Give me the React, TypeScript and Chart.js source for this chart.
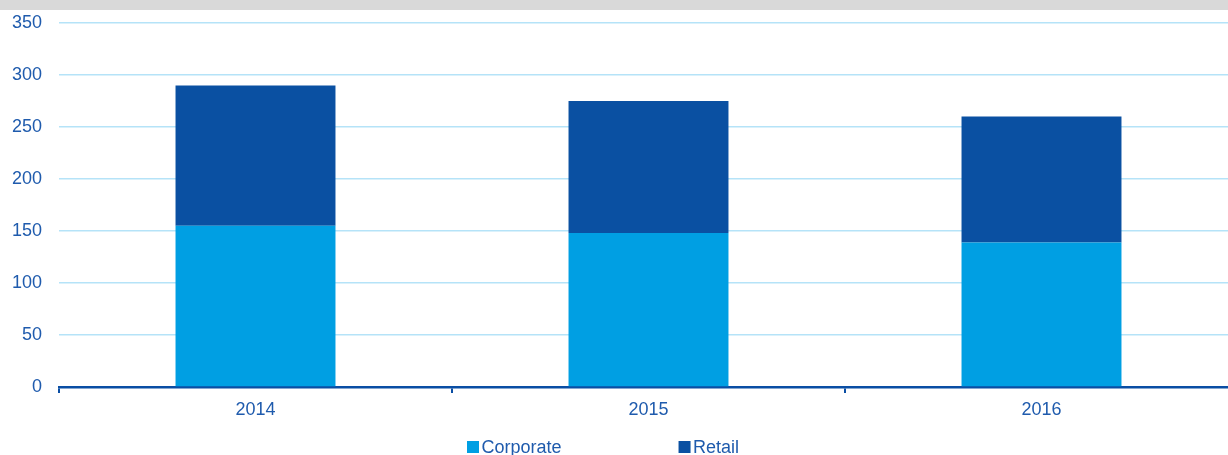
import React, { useEffect, useRef } from "react";
import { Chart, registerables } from "chart.js";

Chart.register(...registerables);

const categories = ["2014", "2015", "2016"];
const corporate = [155, 148, 139];
const retail = [135, 127, 121];
const seriesNames = ["Corporate", "Retail"];
const yMin = 0;
const yMax = 350;
const yStep = 50;

const FONT = "'Liberation Sans', Arial, sans-serif";
const TEXT = "#1f5bad";
const C_CORP = "#009fe3";
const C_RET = "#0a50a2";
const GRID = "#b5e3f8";
const AXIS = "#0a4ea4";

const legendPlugin = {
  id: "customLegend",
  afterDraw(chart: any) {
    const ctx = chart.ctx;
    ctx.save();
    ctx.font = `18px ${FONT}`;
    ctx.textBaseline = "alphabetic";
    let x = 467;
    const boxY = 441;
    chart.data.datasets.forEach((ds: any) => {
      ctx.fillStyle = ds.backgroundColor;
      ctx.fillRect(x, boxY, 12, 12);
      ctx.fillStyle = TEXT;
      ctx.fillText(ds.label, x + 14.5, 453);
      x += 14.5 + ctx.measureText(ds.label).width + 117;
    });
    ctx.restore();
  },
};

export default function App() {
  const ref = useRef<HTMLCanvasElement>(null);
  useEffect(() => {
    if (!ref.current) return;
    const chart = new Chart(ref.current, {
      type: "bar",
      data: {
        labels: categories,
        datasets: [
          { label: seriesNames[0], data: corporate, backgroundColor: C_CORP, borderWidth: 0 },
          { label: seriesNames[1], data: retail, backgroundColor: C_RET, borderWidth: 0 },
        ],
      },
      plugins: [legendPlugin],
      options: {
        animation: false,
        responsive: false,
        maintainAspectRatio: false,
        layout: { padding: { top: 23, left: 0, right: 0, bottom: 0 } },
        plugins: { legend: { display: false }, tooltip: { enabled: false }, title: { display: false } },
        datasets: { bar: { categoryPercentage: 1, barPercentage: 0.407 } },
        scales: {
          x: {
            stacked: true,
            offset: true,
            grid: {
              offset: true,
              drawOnChartArea: false,
              drawTicks: true,
              tickLength: 6,
              color: AXIS,
              lineWidth: 2,
            },
            border: { display: true, color: AXIS, width: 2.5 },
            ticks: { color: TEXT, font: { family: FONT, size: 18 }, padding: 6 },
            afterFit(scale: any) {
              scale.height = 68;
              scale.paddingLeft = 0;
              scale.paddingRight = 0;
            },
          },
          y: {
            stacked: true,
            min: yMin,
            max: yMax,
            ticks: { stepSize: yStep, color: TEXT, font: { family: FONT, size: 18 }, padding: 17 },
            grid: { color: GRID, lineWidth: 1.5, drawTicks: false },
            border: { display: false },
            afterFit(scale: any) {
              scale.width = 59;
              scale.paddingTop = 0;
              scale.paddingBottom = 0;
            },
          },
        },
      },
    });
    return () => chart.destroy();
  }, []);
  return (
    <div style={{ position: "absolute", left: 0, top: 0, width: 1228, height: 455, overflow: "hidden", background: "#fff" }}>
      <canvas ref={ref} width={1238} height={455} style={{ position: "absolute", left: 0, top: 0 }} />
      <div style={{ position: "absolute", left: 0, top: 0, width: 1228, height: 10, background: "#d9d9d9" }} />
    </div>
  );
}
